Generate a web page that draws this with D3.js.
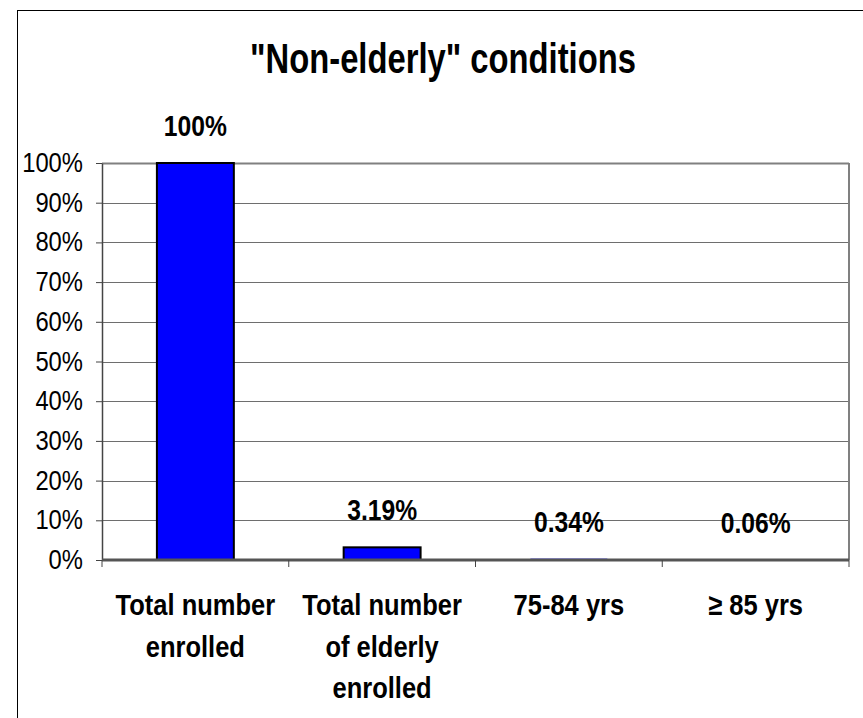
<!DOCTYPE html>
<html>
<head>
<meta charset="utf-8">
<script src="https://cdn.jsdelivr.net/npm/d3@7"></script>
<style>
  html, body { margin: 0; padding: 0; background: #fff; }
  svg { display: block; }
  text { font-family: "Liberation Sans", Arial, sans-serif; fill: #000; }
</style>
</head>
<body>
<script>
// ---- data ----
const title = '"Non-elderly" conditions';
const categories = [
  ["Total number", "enrolled"],
  ["Total number", "of elderly", "enrolled"],
  ["75-84 yrs"],
  ["\u2265 85 yrs"]
];
const values = [100, 3.19, 0.34, 0.06];
const valueLabels = ["100%", "3.19%", "0.34%", "0.06%"];
const yTicks = [0, 10, 20, 30, 40, 50, 60, 70, 80, 90, 100];
const yTickLabels = yTicks.map(d => d + "%");

// ---- layout ----
const W = 863, H = 718;
const plot = { left: 102, right: 849, top: 163, bottom: 560 };
const SX = 0.85;

const svg = d3.select("body").append("svg").attr("width", W).attr("height", H);

// outer frame
svg.append("rect")
  .attr("x", 17.5).attr("y", 10.5)
  .attr("width", 900).attr("height", 800)
  .attr("fill", "#fff").attr("stroke", "#000").attr("stroke-width", 1);

const x = d3.scaleBand()
  .domain(d3.range(categories.length))
  .range([plot.left, plot.right])
  .paddingInner(0.588)
  .paddingOuter(0.294);

const y = d3.scaleLinear().domain([0, 100]).range([plot.bottom, plot.top]);

// gridlines
svg.append("g")
  .selectAll("line")
  .data(yTicks.filter(d => d > 0))
  .join("line")
  .attr("x1", plot.left).attr("x2", plot.right)
  .attr("y1", d => Math.round(y(d)) + 0.5).attr("y2", d => Math.round(y(d)) + 0.5)
  .attr("stroke", d => d === 100 ? "#808080" : "#6e6e6e")
  .attr("stroke-width", d => d === 100 ? 2 : 1);

// right border of plot area
svg.append("line")
  .attr("x1", plot.right).attr("x2", plot.right)
  .attr("y1", plot.top).attr("y2", plot.bottom)
  .attr("stroke", "#808080").attr("stroke-width", 2);

// bars (very thin bars vanish under the axis line, as in the reference)
svg.append("g")
  .selectAll("rect")
  .data(values)
  .join("rect")
  .attr("x", (d, i) => x(i))
  .attr("width", x.bandwidth())
  .attr("y", d => y(d))
  .attr("height", d => Math.max(0, y(0) - y(d)))
  .attr("fill", "#0000ff")
  .attr("stroke", d => (y(0) - y(d)) < 3 ? "none" : "#000")
  .attr("stroke-width", 2);

// y axis
const yAxis = svg.append("g")
  .attr("transform", `translate(${plot.left},0)`)
  .call(d3.axisLeft(y).tickValues(yTicks).tickFormat((d, i) => yTickLabels[i]).tickSize(6).tickSizeOuter(0));
yAxis.select(".domain").attr("stroke", "#444").attr("stroke-width", 1.5);
yAxis.selectAll(".tick line").attr("stroke", "#444");
yAxis.selectAll(".tick text")
  .attr("x", null).attr("dy", null)
  .attr("transform", `translate(-19,8.5) scale(${SX},1)`)
  .attr("font-size", 28)
  .attr("font-family", '"Liberation Sans", Arial, sans-serif')
  .attr("text-anchor", "end")
  .attr("fill", "#000");

// x axis line + boundary ticks
const step = x.step();
const boundaries = d3.range(categories.length + 1).map(i => plot.left + i * step);
svg.append("line")
  .attr("x1", plot.left).attr("x2", plot.right)
  .attr("y1", plot.bottom).attr("y2", plot.bottom)
  .attr("stroke", "#555").attr("stroke-width", 3);
svg.append("g")
  .selectAll("line")
  .data(boundaries)
  .join("line")
  .attr("x1", d => d).attr("x2", d => d)
  .attr("y1", plot.bottom).attr("y2", plot.bottom + 7)
  .attr("stroke", "#444").attr("stroke-width", 1);

// value labels
svg.append("g")
  .selectAll("text")
  .data(values)
  .join("text")
  .attr("transform", (d, i) => `translate(${x(i) + x.bandwidth() / 2},${y(d) - 27}) scale(${SX},1)`)
  .attr("text-anchor", "middle")
  .attr("font-size", 29)
  .attr("font-weight", "bold")
  .text((d, i) => valueLabels[i]);

// category labels
const catG = svg.append("g")
  .selectAll("g")
  .data(categories)
  .join("g")
  .attr("transform", (d, i) => `translate(${x(i) + x.bandwidth() / 2},615)`);
catG.selectAll("text")
  .data(d => d)
  .join("text")
  .attr("transform", (d, j) => `translate(0,${j * 41.5}) scale(${SX},1)`)
  .attr("text-anchor", "middle")
  .attr("font-size", 30)
  .attr("font-weight", "bold")
  .text(d => d);

// title
svg.append("text")
  .attr("transform", `translate(443,73) scale(0.78,1)`)
  .attr("text-anchor", "middle")
  .attr("font-size", 42)
  .attr("font-weight", "bold")
  .text(title);
</script>
</body>
</html>
